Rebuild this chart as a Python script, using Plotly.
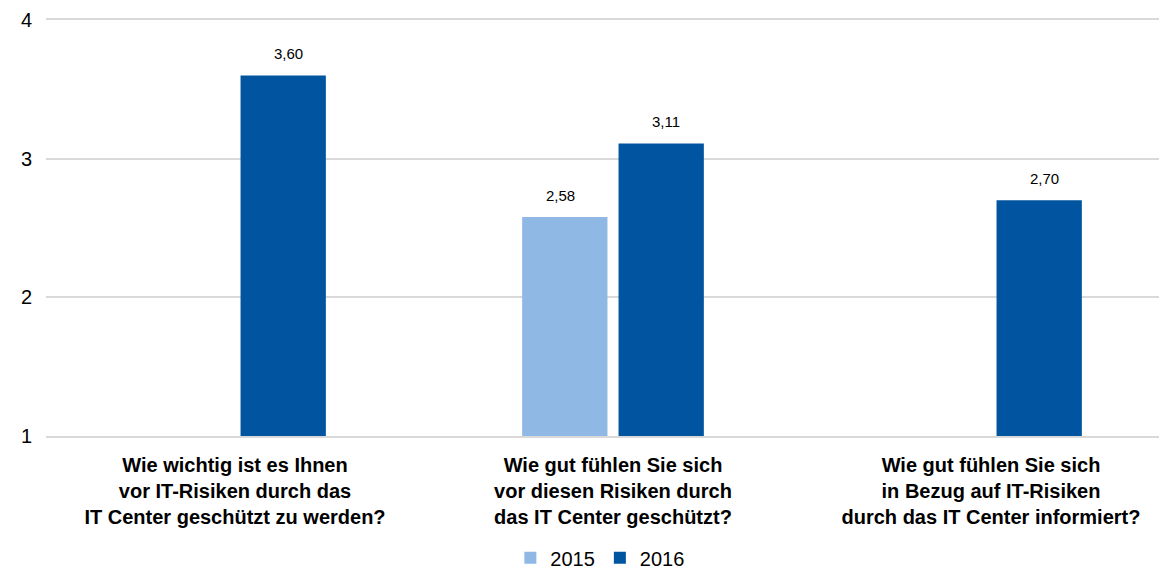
import plotly.graph_objects as go

categories = [
    "Wie wichtig ist es Ihnen<br>vor IT-Risiken durch das<br>IT Center geschützt zu werden?",
    "Wie gut fühlen Sie sich<br>vor diesen Risiken durch<br>das IT Center geschützt?",
    "Wie gut fühlen Sie sich<br>in Bezug auf IT-Risiken<br>durch das IT Center informiert?",
]
values_2015 = [None, 2.58, None]
values_2016 = [3.60, 3.11, 2.70]
y_ticks = [1, 2, 3, 4]

_LIGHT = "#8fb9e4"
_DARK = "#0054a0"
_GRID = "#d9d9d9"
_FONT = "Liberation Sans, Arial, sans-serif"

fig = go.Figure()
fig.add_trace(go.Bar(x=categories, y=values_2015, name="2015", marker_color=_LIGHT))
fig.add_trace(go.Bar(x=categories, y=values_2016, name="2016", marker_color=_DARK))

# value labels above the bars (comma decimal separator)
for series, shift in ((values_2015, -53), (values_2016, 53)):
    for cat, val in zip(categories, series):
        if val is None:
            continue
        fig.add_annotation(
            x=cat, y=val, xshift=shift, yshift=11, yanchor="bottom",
            text=f"{val:.2f}".replace(".", ","), showarrow=False,
            font=dict(size=15, color="#000000", family=_FONT),
        )

# the page body adds an 8px margin; the plot runs a little past the right edge
fig.update_layout(
    width=1172,
    height=561,
    template=None,
    plot_bgcolor="white",
    paper_bgcolor="white",
    font=dict(family=_FONT, color="#000000"),
    margin=dict(l=38, r=0, t=12, b=133),
    bargap=0.49,
    bargroupgap=0.115,
    showlegend=True,
    # legend placed in container coords so it does not push the margins
    legend=dict(
        orientation="h", x=0.505, xanchor="center", xref="container",
        y=0.02, yanchor="middle", yref="container",
        font=dict(size=20), itemwidth=30, traceorder="normal",
    ),
)
fig.update_xaxes(
    showgrid=False, zeroline=False, automargin=False,
    showline=True, mirror=True, linecolor=_GRID, linewidth=1.5,
    tickfont=dict(size=20, family=_FONT, color="#000000"),
    tickprefix="<b>", ticksuffix="</b>",
    ticklabelstandoff=10,
)
fig.update_yaxes(
    range=[1, 4], tickvals=y_ticks, showgrid=True, gridcolor=_GRID, gridwidth=1.5,
    zeroline=False, showline=False, automargin=False, tickfont=dict(size=20),
    ticklabelstandoff=13,
)

fig.write_html("out.html")
